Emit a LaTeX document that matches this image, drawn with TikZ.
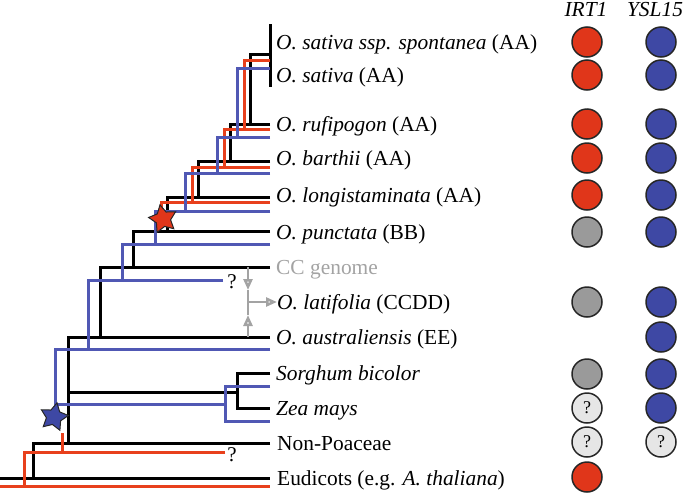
\documentclass[tikz,border=0pt]{standalone}
\usepackage{fontspec}
\setmainfont{Liberation Serif}
\usetikzlibrary{shapes.geometric,arrows.meta}
\definecolor{tred}{HTML}{E8401C}
\definecolor{tblue}{HTML}{5058B4}
\definecolor{cred}{HTML}{E0361A}
\definecolor{cblue}{HTML}{3E48A4}
\definecolor{cgray}{HTML}{9A9A9A}
\definecolor{clight}{HTML}{E6E6E6}
\definecolor{agray}{HTML}{A3A3A3}
\begin{document}
\begin{tikzpicture}[x=1pt,y=-1pt,
  blk/.style={line width=3pt,black},
  rd/.style={line width=3pt,tred},
  bl/.style={line width=3pt,tblue},
  lab/.style={anchor=base west,inner sep=0pt,font=\fontsize{21.4}{25}\selectfont},
  hdr/.style={anchor=base,inner sep=0pt,font=\fontsize{21.4}{25}\selectfont\itshape},
  qm/.style={anchor=base,inner sep=0pt,font=\fontsize{21}{24}\selectfont},
  circ/.style={circle,draw=black!85,line width=1.5pt,minimum size=30pt,inner sep=0pt,font=\fontsize{18}{20}\selectfont},
  garr/.style={agray,line width=2.5pt},
  gtip/.style={-{Triangle[open,length=11pt,width=9pt]}},
  starnode/.style={star,star points=5,star point ratio=1.9,minimum size=29pt,inner sep=0pt,draw=black!85,line width=1pt}
]
\useasboundingbox (0,0) rectangle (685,493);
% black tree
\draw[blk] (270,24)--(270,87);
\draw[blk] (270,54)--(250,54)--(250,124);
\draw[blk] (270,124)--(230,124)--(230,161);
\draw[blk] (270,161)--(198,161)--(198,197);
\draw[blk] (270,197)--(167,197)--(167,231);
\draw[blk] (270,231)--(133,231)--(133,267);
\draw[blk] (270,267)--(100,267)--(100,337);
\draw[blk] (270,337)--(68,337)--(68,443);
\draw[blk] (68,392)--(237,392);
\draw[blk] (270,373)--(237,373)--(237,408)--(270,408);
\draw[blk] (270,443)--(33,443)--(33,478);
\draw[blk] (0,478)--(270,478);
% red tree
\draw[rd] (270,60)--(244,60)--(244,129);
\draw[rd] (270,129)--(224,129)--(224,167);
\draw[rd] (270,167)--(192,167)--(192,202);
\draw[rd] (270,202)--(161,202)--(161,216);
\draw[rd] (62,433)--(62,452);
\draw[rd] (225,452)--(24,452)--(24,486);
\draw[rd] (0,486)--(270,486);
% blue tree
\draw[bl] (270,68)--(237,68)--(237,137);
\draw[bl] (270,137)--(217,137)--(217,173);
\draw[bl] (270,173)--(185,173)--(185,211);
\draw[bl] (270,211)--(155,211)--(155,244);
\draw[bl] (270,244)--(122,244)--(122,280);
\draw[bl] (223,280)--(88,280)--(88,349);
\draw[bl] (270,349)--(55,349)--(55,410);
\draw[bl] (55,404)--(225,404);
\draw[bl] (270,386)--(225,386)--(225,421)--(270,421);
% stars
\node[starnode,fill=cred,rotate=12] (rstar) at (163,219) {};
\node[starnode,fill=cblue,rotate=-12] (bstar) at (54,417) {};
% question marks on tree
\node[qm] (q1) at (232,288) {?};
\node[qm] (q2) at (232,461) {?};
% labels
\node[lab] (l1) at (276,49) {\textit{O. sativa ssp. spontanea} (AA)};
\node[lab] (l2) at (276,82) {\textit{O. sativa} (AA)};
\node[lab] (l3) at (276,131) {\textit{O. rufipogon} (AA)};
\node[lab] (l4) at (276,165) {\textit{O. barthii} (AA)};
\node[lab] (l5) at (276,202) {\textit{O. longistaminata} (AA)};
\node[lab] (l6) at (276,239) {\textit{O. punctata} (BB)};
\node[lab,text=agray] (l7) at (276,274) {CC genome};
\node[lab] (l8) at (277,309) {\textit{O. latifolia} (CCDD)};
\node[lab] (l9) at (276,344) {\textit{O. australiensis} (EE)};
\node[lab] (l10) at (276,380) {\textit{Sorghum bicolor}};
\node[lab] (l11) at (276,415) {\textit{Zea mays}};
\node[lab] (l12) at (277,450) {Non-Poaceae};
\node[lab] (l13) at (277,485) {Eudicots (e.g. \textit{A. thaliana})};
% gray arrows
\coordinate (gtop) at (248,267);
\coordinate (gbot) at (248,337);
\coordinate (gmid) at (248,302);
\coordinate (gdn) at (248,290);
\coordinate (gup) at (248,315);
\draw[garr,gtip] (gtop)--(gdn);
\draw[garr,gtip] (gbot)--(gup);
\draw[garr] (gdn)--(gup);
\draw[garr,gtip] (gmid)--(gmid -| l8.west);
% headers
\node[hdr] (h1) at (586,16) {IRT1};
\node[hdr] (h2) at (655,16) {YSL15};
% circles
\node[circ,fill=cred] (a1) at (587,42) {};
\node[circ,fill=cblue] (b1) at (661,42) {};
\node[circ,fill=cred] (a2) at (587,75) {};
\node[circ,fill=cblue] (b2) at (661,75) {};
\node[circ,fill=cred] (a3) at (587,124) {};
\node[circ,fill=cblue] (b3) at (661,124) {};
\node[circ,fill=cred] (a4) at (587,158) {};
\node[circ,fill=cblue] (b4) at (661,158) {};
\node[circ,fill=cred] (a5) at (587,195) {};
\node[circ,fill=cblue] (b5) at (661,195) {};
\node[circ,fill=cgray] (a6) at (587,232) {};
\node[circ,fill=cblue] (b6) at (661,232) {};
\node[circ,fill=cgray] (a8) at (587,302) {};
\node[circ,fill=cblue] (b8) at (661,302) {};
\node[circ,fill=cblue] (b9) at (661,337) {};
\node[circ,fill=cgray] (a10) at (587,374) {};
\node[circ,fill=cblue] (b10) at (661,374) {};
\node[circ,fill=clight] (a11) at (587,408) {?};
\node[circ,fill=cblue] (b11) at (661,408) {};
\node[circ,fill=clight] (a12) at (587,442) {?};
\node[circ,fill=clight] (b12) at (661,442) {?};
\node[circ,fill=cred] (a13) at (587,477) {};
\end{tikzpicture}
\end{document}
